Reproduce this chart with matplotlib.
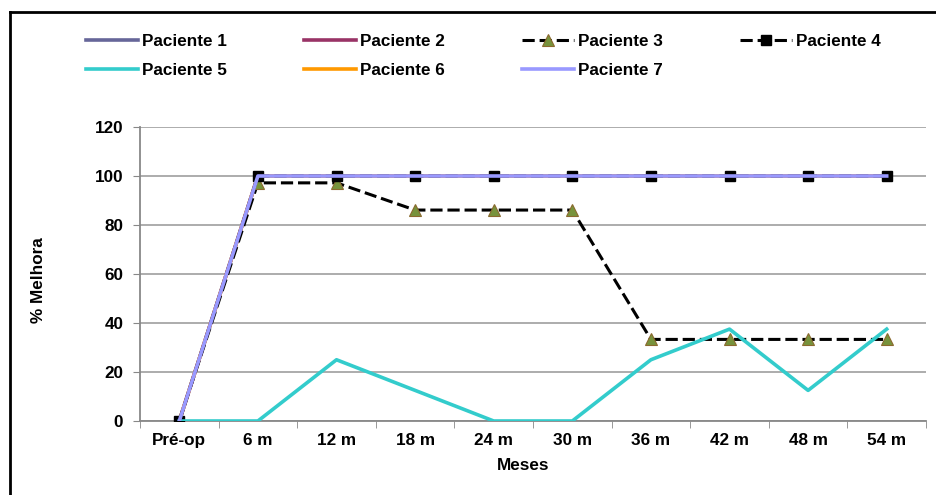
import numpy as np
import matplotlib.pyplot as plt
from matplotlib.lines import Line2D

plt.rcParams['font.family'] = ['Liberation Sans', 'DejaVu Sans']
plt.rcParams['font.weight'] = 'bold'

meses = ['Pré-op', '6 m', '12 m', '18 m', '24 m', '30 m', '36 m', '42 m', '48 m', '54 m']
paciente1 = [0, 100, 100, 100, 100, 100, 100, 100, 100, 100]
paciente2 = [0, 100, 100, 100, 100, 100, 100, 100, 100, 100]
paciente3 = [0, 97.2, 97.2, 86.1, 86.1, 86.1, 33.3, 33.3, 33.3, 33.3]
paciente4 = [0, 100, 100, 100, 100, 100, 100, 100, 100, 100]
paciente5 = [0, 0, 25, 12.5, 0, 0, 25, 37.5, 12.5, 37.5]
paciente6 = [0, 100, 100, 100, 100, 100, 100, 100, 100, 100]
paciente7 = [0, 100, 100, 100, 100, 100, 100, 100, 100, 100]

fs = 12.3
fig = plt.figure(figsize=(9.36, 4.95), dpi=100)
ax = fig.add_axes([140 / 936, 1 - 421 / 495, 786 / 936, 294 / 495])

x = np.arange(len(meses))
lw = 2.6
dash = (0, (4.0, 1.6))
h1, = ax.plot(x, paciente1, color='#666699', lw=lw, label='Paciente 1', zorder=3)
h2, = ax.plot(x, paciente2, color='#993366', lw=lw, label='Paciente 2', zorder=3)
h3, = ax.plot(x, paciente3, color='black', lw=2.2, ls=dash, marker='^', ms=9,
              mfc='#77933C', mec='#8B6A2E', mew=0.8, label='Paciente 3', zorder=4)
h4, = ax.plot(x, paciente4, color='black', lw=2.2, ls=dash, marker='s', ms=6.5,
              mfc='black', mec='black', label='Paciente 4', zorder=4)
h5, = ax.plot(x, paciente5, color='#33CCCC', lw=lw, label='Paciente 5', zorder=5)
h6, = ax.plot(x, paciente6, color='#FF9900', lw=lw, label='Paciente 6', zorder=3)
h7, = ax.plot(x, paciente7, color='#9999FF', lw=lw, label='Paciente 7', zorder=5)

ax.set_xlim(-0.5, len(meses) - 0.5)
ax.set_ylim(0, 120)
ax.set_yticks(range(0, 121, 20))
ax.set_xticks(x)
ax.set_xticklabels(meses)
ax.set_xticks(np.arange(-0.5, len(meses), 1), minor=True)
ax.tick_params(axis='x', which='major', length=0, pad=8.5, labelsize=fs)
ax.tick_params(axis='x', which='minor', length=5, color='#888888', direction='out')
ax.tick_params(axis='y', length=5, color='#888888', pad=7, labelsize=fs)
ax.grid(axis='y', color='#a6a6a6', lw=1.3)
ax.set_axisbelow(True)
for s in ['top', 'right']:
    ax.spines[s].set_visible(False)
for s in ['left', 'bottom']:
    ax.spines[s].set_color('#888888')
    ax.spines[s].set_linewidth(1.3)

ax.set_xlabel('Meses', fontsize=fs, fontweight='bold')
ax.xaxis.set_label_coords(0.487, -0.127)
ax.set_ylabel('% Melhora', fontsize=fs, fontweight='bold')
ax.yaxis.set_label_coords(-0.12, 0.48)

# row-wise legend order as in the original
handles = [h1, h5, h2, h6, h3, h7, h4]
fig.legend(handles, [h.get_label() for h in handles], loc='upper left',
           bbox_to_anchor=(86 / 936, 1 - 34 / 495), ncol=4, frameon=False,
           fontsize=fs, handlelength=3.05, handletextpad=0.2,
           columnspacing=4.55, labelspacing=0.8, borderaxespad=0, borderpad=0)

# outer chart border (left and top edges visible)
fig.add_artist(Line2D([10 / 936, 10 / 936], [0, 1 - 12 / 495], color='black', lw=2,
                      transform=fig.transFigure))
fig.add_artist(Line2D([10 / 936, 1], [1 - 12 / 495, 1 - 12 / 495], color='black', lw=2,
                      transform=fig.transFigure))

fig.savefig('out.png', dpi=100)
